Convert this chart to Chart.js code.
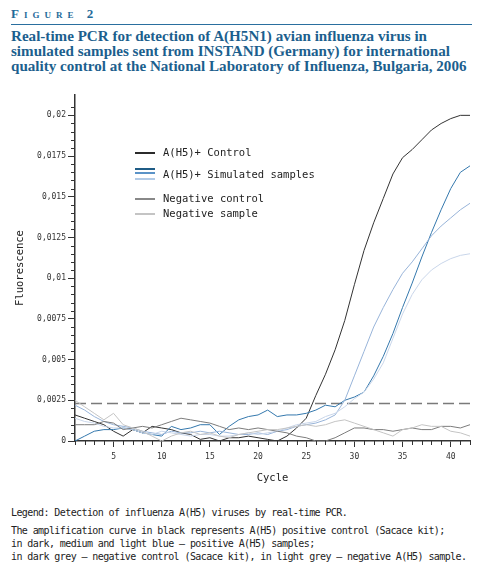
<!DOCTYPE html>
<html>
<head>
<meta charset="utf-8">
<script src="https://cdn.jsdelivr.net/npm/chart.js@4.4.1/dist/chart.umd.min.js"></script>
<style>
  body { margin: 0; background: #fff; width: 494px; height: 564px; position: relative; overflow: hidden; }
  #fig { position: absolute; left: 11px; top: 6px; font-family: "Liberation Serif", serif; font-weight: bold;
         color: #1f6b9a; font-size: 13px; font-variant: small-caps; letter-spacing: 5px; }
  #rule { position: absolute; left: 11px; top: 24px; width: 461px; height: 0; border-top: 1.5px solid #2a6f9f; }
  #title { position: absolute; left: 11px; top: 29px; font-family: "Liberation Serif", serif; font-weight: bold;
           color: #1c5f8e; font-size: 15.1px; line-height: 15px; white-space: nowrap; }
  #box { position: absolute; left: 0; top: 88px; width: 494px; height: 402px; }
  #caption { position: absolute; left: 11px; top: 506px; font-family: "DejaVu Sans Mono", monospace;
             font-size: 10px; letter-spacing: -0.6px; color: #222; line-height: 13px; white-space: nowrap; }
  #caption .gap { height: 5px; }
</style>
</head>
<body>
<div id="fig">Figure 2</div>
<div id="rule"></div>
<div id="title">Real-time PCR for detection of A(H5N1) avian influenza virus in<br>simulated samples sent from INSTAND (Germany) for international<br>quality control at the National Laboratory of Influenza, Bulgaria, 2006</div>
<div id="box"><canvas id="chart"></canvas></div>
<div id="caption">Legend: Detection of influenza A(H5) viruses by real-time PCR.<div class="gap"></div>The amplification curve in black represents A(H5) positive control (Sacace kit);<br>in dark, medium and light blue – positive A(H5) samples;<br>in dark grey – negative control (Sacace kit), in light grey – negative A(H5) sample.</div>
<script>
var cycles = [1, 2, 3, 4, 5, 6, 7, 8, 9, 10, 11, 12, 13, 14, 15, 16, 17, 18, 19, 20, 21,
  22, 23, 24, 25, 26, 27, 28, 29, 30, 31, 32, 33, 34, 35, 36, 37, 38, 39, 40, 41, 42];

var positiveControl = [0.0016, 0.0014, 0.0012, 0.0010, 0.0006, 0.0003, 0.0007, 0.0005, 0.0009, 0.0008,
  0.0007, 0.0005, 0.0004, 0.0001, 0.0002, 0.0000, 0.0002, 0.0002, 0.0003, 0.0002, 0.0001,
  0.0000, 0.0003, 0.0008, 0.0014, 0.0028, 0.0041, 0.0056, 0.0074, 0.0096, 0.0117,
  0.0134, 0.0149, 0.0164, 0.0174, 0.0179, 0.0185, 0.0191, 0.0195, 0.0198, 0.0200, 0.0200];

var sampleMedium = [0.0000, 0.0003, 0.0006, 0.0007, 0.0007, 0.0008, 0.0007, 0.0005, 0.0004, 0.0003,
  0.0009, 0.0007, 0.0008, 0.0010, 0.0010, 0.0004, 0.0009, 0.0013, 0.0015, 0.0016, 0.0019,
  0.0015, 0.0016, 0.0016, 0.0017, 0.0019, 0.0022, 0.0021, 0.0025, 0.0027, 0.0030,
  0.0040, 0.0052, 0.0066, 0.0082, 0.0097, 0.0113, 0.0128, 0.0142, 0.0155, 0.0165, 0.0169];

var sampleLight = [0.0022, 0.0019, 0.0015, 0.0012, 0.0010, 0.0009, 0.0008, 0.0006, 0.0005, 0.0004,
  0.0006, 0.0005, 0.0005, 0.0006, 0.0005, 0.0006, 0.0005, 0.0004, 0.0004, 0.0005, 0.0004,
  0.0006, 0.0007, 0.0009, 0.0010, 0.0011, 0.0013, 0.0016, 0.0025, 0.0040, 0.0055,
  0.0070, 0.0082, 0.0093, 0.0103, 0.0110, 0.0118, 0.0126, 0.0132, 0.0137, 0.0142, 0.0146];

var samplePale = [0.0014, 0.0012, 0.0011, 0.0009, 0.0008, 0.0008, 0.0007, 0.0005, 0.0004, 0.0006,
  0.0005, 0.0004, 0.0003, 0.0004, 0.0004, 0.0003, 0.0003, 0.0004, 0.0005, 0.0004, 0.0005,
  0.0006, 0.0008, 0.0010, 0.0011, 0.0012, 0.0015, 0.0017, 0.0021, 0.0026, 0.0030,
  0.0038, 0.0048, 0.0063, 0.0078, 0.0090, 0.0099, 0.0105, 0.0109, 0.0112, 0.0114, 0.0115];

var negativeControl = [0.0010, 0.0010, 0.0010, 0.0012, 0.0011, 0.0007, 0.0008, 0.0009, 0.0008, 0.0010,
  0.0012, 0.0014, 0.0013, 0.0012, 0.0011, 0.0009, 0.0007, 0.0008, 0.0007, 0.0008, 0.0007,
  0.0006, 0.0005, 0.0003, 0.0002, 0.0000, 0.0000, 0.0002, 0.0005, 0.0008, 0.0008,
  0.0007, 0.0007, 0.0006, 0.0007, 0.0008, 0.0007, 0.0007, 0.0009, 0.0009, 0.0008, 0.0010];

var negativeSample = [0.0025, 0.0021, 0.0017, 0.0013, 0.0017, 0.0010, 0.0008, 0.0006, 0.0003, 0.0000,
  0.0003, 0.0005, 0.0006, 0.0004, 0.0005, 0.0003, 0.0002, 0.0004, 0.0005, 0.0006, 0.0007,
  0.0007, 0.0008, 0.0009, 0.0010, 0.0009, 0.0010, 0.0012, 0.0013, 0.0011, 0.0009,
  0.0007, 0.0005, 0.0003, 0.0007, 0.0008, 0.0010, 0.0009, 0.0009, 0.0006, 0.0005, 0.0003];

var threshold = 0.0023;

var legendItems = [
  { text: 'A(H5)+ Control', y: 153, lines: [{ dy: 0, color: '#2b2b2b' }] },
  { text: 'A(H5)+ Simulated samples', y: 175, lines: [{ dy: -6, color: '#1f5c86' }, { dy: -2, color: '#5b93c7' }, { dy: 4, color: '#b3cbe6' }] },
  { text: 'Negative control', y: 199, lines: [{ dy: 0, color: '#888888' }] },
  { text: 'Negative sample', y: 214, lines: [{ dy: 0, color: '#c4c4c4' }] }
];

function series(values) {
  return values.map(function(v, i) { return { x: cycles[i], y: v }; });
}

function isMajorY(v) { return Math.round(v * 10000) % 25 === 0; }

function yLabel(v) {
  if (!isMajorY(v)) return '';
  return String(+v.toFixed(4)).replace('.', ',');
}

var boxTop = 88;

var minorTicks = {
  id: 'minorTicks',
  afterDraw: function(chart) {
    var ctx = chart.ctx, x = chart.scales.x, y = chart.scales.y;
    ctx.save();
    ctx.strokeStyle = '#333';
    ctx.lineWidth = 1;
    ctx.beginPath();
    x.ticks.forEach(function(t) {
      if (t.value % 5 === 0) return;
      var px = Math.round(x.getPixelForValue(t.value)) + 0.5;
      ctx.moveTo(px, x.top);
      ctx.lineTo(px, x.top + 4);
    });
    y.ticks.forEach(function(t) {
      if (isMajorY(t.value) || Math.round(t.value * 10000) % 5 !== 0) return;
      var py = Math.round(y.getPixelForValue(t.value)) + 0.5;
      ctx.moveTo(y.right - 4, py);
      ctx.lineTo(y.right, py);
    });
    ctx.stroke();
    ctx.restore();
  }
};

var customLegend = {
  id: 'customLegend',
  afterDraw: function(chart) {
    var ctx = chart.ctx;
    ctx.save();
    ctx.font = '10.5px "DejaVu Sans Mono"';
    ctx.textBaseline = 'middle';
    legendItems.forEach(function(item) {
      var cy = item.y - boxTop;
      item.lines.forEach(function(l) {
        ctx.strokeStyle = l.color;
        ctx.lineWidth = 2;
        ctx.beginPath();
        ctx.moveTo(135, cy + l.dy);
        ctx.lineTo(155, cy + l.dy);
        ctx.stroke();
      });
      ctx.fillStyle = '#222';
      ctx.fillText(item.text, 163, cy);
    });
    ctx.restore();
  }
};

var lineStyle = { fill: false, tension: 0, pointRadius: 0, borderWidth: 1 };

function dataset(label, values, color) {
  return Object.assign({ label: label, data: series(values), borderColor: color }, lineStyle);
}

new Chart(document.getElementById('chart'), {
  type: 'line',
  data: {
    datasets: [
      dataset('Negative sample', negativeSample, '#c4c4c4'),
      dataset('Negative control', negativeControl, '#7c7c7c'),
      dataset('Sample pale', samplePale, '#c9d6ea'),
      dataset('Sample light', sampleLight, '#98b4d9'),
      dataset('Sample medium', sampleMedium, '#3478ad'),
      dataset('A(H5)+ Control', positiveControl, '#333333'),
      Object.assign({}, lineStyle, {
        label: 'Threshold',
        data: [{ x: cycles[0], y: threshold }, { x: cycles[cycles.length - 1], y: threshold }],
        borderColor: '#7a7a7a', borderWidth: 1.5, borderDash: [11, 5]
      })
    ]
  },
  options: {
    responsive: true,
    maintainAspectRatio: false,
    animation: false,
    layout: { padding: { top: 7, right: 24, left: 0, bottom: 0 } },
    plugins: { legend: { display: false }, tooltip: { enabled: false } },
    scales: {
      x: {
        type: 'linear', min: 1, max: 42,
        afterFit: function(s) { s.height = 49; },
        grid: { drawOnChartArea: false, tickLength: 6,
                tickColor: function(c) { return c.tick && c.tick.value % 5 === 0 ? '#333' : 'rgba(0,0,0,0)'; } },
        border: { color: '#333', width: 1.5 },
        ticks: { stepSize: 1, autoSkip: false, maxRotation: 0, padding: 5, color: '#333',
                 font: { family: 'DejaVu Sans Mono', size: 8 },
                 callback: function(v) { return v % 5 === 0 ? String(v) : ''; } },
        title: { display: true, text: 'Cycle', color: '#222', padding: { bottom: 5 },
                 font: { family: 'DejaVu Sans Mono', size: 10.5 } }
      },
      y: {
        min: 0, max: 0.02125,
        afterFit: function(s) { s.width = 75; },
        grid: { drawOnChartArea: false, tickLength: 7,
                tickColor: function(c) { return c.tick && isMajorY(c.tick.value) ? '#333' : 'rgba(0,0,0,0)'; } },
        border: { color: '#333', width: 1.5 },
        ticks: { stepSize: 0.0005, autoSkip: false, padding: 2, color: '#333',
                 font: { family: 'DejaVu Sans Mono', size: 8 },
                 callback: yLabel },
        title: { display: true, text: 'Fluorescence', color: '#222', padding: { top: 14 },
                 font: { family: 'DejaVu Sans Mono', size: 10.5 } }
      }
    }
  },
  plugins: [minorTicks, customLegend]
});
</script>
</body>
</html>
